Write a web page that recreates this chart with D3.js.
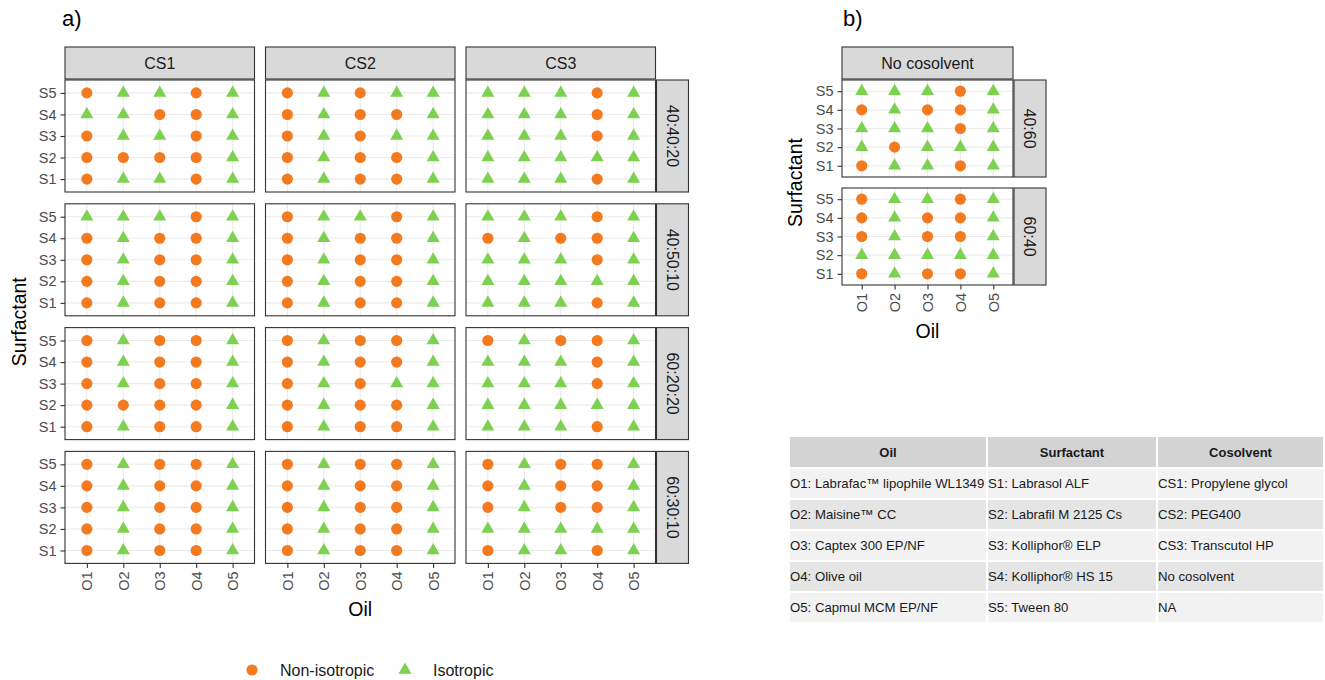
<!DOCTYPE html>
<html>
<head>
<meta charset="utf-8">
<script src="https://cdn.jsdelivr.net/npm/d3@7"></script>
<style>
  body { margin: 0; background: #fff; }
  svg { display: block; font-family: "Liberation Sans", Arial, sans-serif; }
</style>
</head>
<body>
<div id="chart"></div>
<script>
// categories
const oils = ["O1", "O2", "O3", "O4", "O5"];
const surfactants = ["S1", "S2", "S3", "S4", "S5"];
const cosolvents = ["CS1", "CS2", "CS3"];
const ratiosA = ["40:40:20", "40:50:10", "60:20:20", "60:30:10"];
const ratiosB = ["40:60", "60:40"];
const stateLabels = ["Non-isotropic", "Isotropic"];

// observations: one string per surfactant row, S5 at the top down to S1,
// one letter per oil O1..O5 (N = non-isotropic, I = isotropic)
const cs1_40_40_20 = ["NIINI", "IINNI", "NIINI", "NNNNI", "NIINI"];
const cs2_40_40_20 = ["NINII", "NINNI", "NINII", "NINNI", "NINNI"];
const cs3_40_40_20 = ["IIINI", "IIINI", "IIINI", "IIIII", "IIINI"];

const cs1_40_50_10 = ["IIINI", "NINNI", "NINNI", "NINNI", "NINNI"];
const cs2_40_50_10 = ["NIINI", "NINNI", "NINNI", "NINNI", "NINNI"];
const cs3_40_50_10 = ["IIINI", "NINNI", "IIINI", "IIIII", "IIINI"];

const cs1_60_20_20 = ["NINNI", "NINNI", "NINNI", "NNNNI", "NINNI"];
const cs2_60_20_20 = ["NINNI", "NINNI", "NINII", "NINNI", "NINNI"];
const cs3_60_20_20 = ["NINNI", "IIINI", "IIINI", "IIIII", "IIINI"];

const cs1_60_30_10 = ["NINNI", "NINNI", "NINNI", "NINNI", "NINNI"];
const cs2_60_30_10 = ["NINNI", "NINNI", "NINNI", "NINNI", "NINNI"];
const cs3_60_30_10 = ["NINNI", "NINNI", "NINNI", "IIIII", "NIINI"];

const none_40_60 = ["IIINI", "NINNI", "IIINI", "INIII", "NIINI"];
const none_60_40 = ["NIINI", "NINNI", "NINNI", "IIIII", "NINNI"];

// table text
const tableHeader = ["Oil", "Surfactant", "Cosolvent"];
const oilNames = ["O1: Labrafac\u2122 lipophile WL1349", "O2: Maisine\u2122 CC", "O3: Captex 300 EP/NF", "O4: Olive oil", "O5: Capmul MCM EP/NF"];
const surfactantNames = ["S1: Labrasol ALF", "S2: Labrafil M 2125 Cs", "S3: Kolliphor\u00ae ELP", "S4: Kolliphor\u00ae HS 15", "S5: Tween 80"];
const cosolventNames = ["CS1: Propylene glycol", "CS2: PEG400", "CS3: Transcutol HP", "No cosolvent", "NA"];

const gridA = [
  [cs1_40_40_20, cs2_40_40_20, cs3_40_40_20],
  [cs1_40_50_10, cs2_40_50_10, cs3_40_50_10],
  [cs1_60_20_20, cs2_60_20_20, cs3_60_20_20],
  [cs1_60_30_10, cs2_60_30_10, cs3_60_30_10]
];
const gridB = [[none_40_60], [none_60_40]];

const W = 1325, H = 680;
const colors = { N: "#f47a1f", I: "#7cd150" };
const circle = d3.symbol().type(d3.symbolCircle).size(98);
const triangle = d3.symbol().type(d3.symbolTriangle).size(74);

const svg = d3.select("#chart").append("svg")
    .attr("width", W)
    .attr("height", H);

const toPoints = rows => rows.flatMap((row, r) =>
    row.split("").map((s, c) => ({ oil: oils[c], surf: surfactants[4 - r], state: s })));

const drawPanel = (x0, y0, w, h, rows, showY, showX) => {
    const x = d3.scalePoint().domain(oils).range([x0, x0 + w]).padding(0.6);
    const y = d3.scalePoint().domain(surfactants).range([y0 + h, y0]).padding(0.6);
    const g = svg.append("g");

    g.append("rect")
        .attr("x", x0).attr("y", y0).attr("width", w).attr("height", h)
        .attr("fill", "#fff");

    // grid
    g.selectAll(".gx").data(oils).enter().append("line")
        .attr("x1", d => x(d)).attr("x2", d => x(d))
        .attr("y1", y0).attr("y2", y0 + h)
        .attr("stroke", "#ebebeb").attr("stroke-width", 1.1);
    g.selectAll(".gy").data(surfactants).enter().append("line")
        .attr("y1", d => y(d)).attr("y2", d => y(d))
        .attr("x1", x0).attr("x2", x0 + w)
        .attr("stroke", "#ebebeb").attr("stroke-width", 1.1);

    g.selectAll(".pt").data(toPoints(rows)).enter().append("path")
        .attr("d", d => d.state === "N" ? circle() : triangle())
        .attr("transform", d => `translate(${x(d.oil)},${y(d.surf)})`)
        .attr("fill", d => colors[d.state]);

    g.append("rect")
        .attr("x", x0).attr("y", y0).attr("width", w).attr("height", h)
        .attr("fill", "none").attr("stroke", "#333").attr("stroke-width", 1.1);

    if (showY) {
        const ax = g.append("g")
            .attr("transform", `translate(${x0},0)`)
            .call(d3.axisLeft(y).tickSize(4.5).tickPadding(4));
        ax.select(".domain").remove();
        ax.selectAll("line").attr("stroke", "#333").attr("stroke-width", 1.1);
        ax.selectAll("text")
            .style("font-size", "14.5px")
            .style("font-family", "Liberation Sans, Arial, sans-serif")
            .attr("fill", "#4d4d4d");
    }
    if (showX) {
        const ax = g.append("g")
            .attr("transform", `translate(0,${y0 + h})`)
            .call(d3.axisBottom(x).tickSize(4.5));
        ax.select(".domain").remove();
        ax.selectAll("line").attr("stroke", "#333").attr("stroke-width", 1.1);
        ax.selectAll("text")
            .attr("transform", "rotate(-90)")
            .attr("x", -8).attr("y", 0).attr("dy", "0.35em")
            .style("text-anchor", "end")
            .style("font-size", "14.5px")
            .style("font-family", "Liberation Sans, Arial, sans-serif")
            .attr("fill", "#4d4d4d");
    }
};

const stripTop = (x0, y0, w, h, label) => {
    svg.append("rect")
        .attr("x", x0).attr("y", y0).attr("width", w).attr("height", h)
        .attr("fill", "#d9d9d9").attr("stroke", "#333").attr("stroke-width", 1.1);
    svg.append("text")
        .attr("x", x0 + w / 2).attr("y", y0 + h / 2).attr("dy", "0.35em")
        .attr("text-anchor", "middle")
        .style("font-size", "16px").attr("fill", "#1a1a1a")
        .text(label);
};

const stripRight = (x0, y0, w, h, label) => {
    svg.append("rect")
        .attr("x", x0).attr("y", y0).attr("width", w).attr("height", h)
        .attr("fill", "#d9d9d9").attr("stroke", "#333").attr("stroke-width", 1.1);
    svg.append("text")
        .attr("transform", `translate(${x0 + w / 2},${y0 + h / 2}) rotate(90)`)
        .attr("dy", "0.35em")
        .attr("text-anchor", "middle")
        .style("font-size", "16px").attr("fill", "#1a1a1a")
        .text(label);
};

// ---- a) ----
const aX = i => 65 + i * 200.5;
const aY = j => 80 + j * 123.8;
const aW = 189.5, aH = 112, stripS = 32;

cosolvents.forEach((cs, i) => stripTop(aX(i), 80 - stripS - 1, aW, stripS, cs));
ratiosA.forEach((r, j) => {
    stripRight(aX(2) + aW + 1, aY(j), stripS, aH, r);
    cosolvents.forEach((cs, i) => drawPanel(aX(i), aY(j), aW, aH, gridA[j][i], i === 0, j === ratiosA.length - 1));
});

svg.append("text").attr("x", 62).attr("y", 26)
    .style("font-size", "22px").text("a)");
svg.append("text")
    .attr("transform", `translate(26,${(aY(0) + aY(3) + aH) / 2}) rotate(-90)`)
    .attr("text-anchor", "middle")
    .style("font-size", "19.5px").text("Surfactant");
svg.append("text")
    .attr("x", aX(1) + aW / 2).attr("y", 616)
    .attr("text-anchor", "middle")
    .style("font-size", "19.5px").text("Oil");

// ---- b) ----
const bX = 842, bW = 171, bH = 97;
const bY = j => 80 + j * 108;
stripTop(bX, 80 - stripS - 1, bW, stripS, "No cosolvent");
ratiosB.forEach((r, j) => {
    stripRight(bX + bW + 1, bY(j), stripS, bH, r);
    drawPanel(bX, bY(j), bW, bH, gridB[j][0], true, j === ratiosB.length - 1);
});
svg.append("text").attr("x", 843).attr("y", 26)
    .style("font-size", "22px").text("b)");
svg.append("text")
    .attr("transform", `translate(802,${(bY(0) + bY(1) + bH) / 2}) rotate(-90)`)
    .attr("text-anchor", "middle")
    .style("font-size", "19.5px").text("Surfactant");
svg.append("text")
    .attr("x", bX + bW / 2).attr("y", 338)
    .attr("text-anchor", "middle")
    .style("font-size", "19.5px").text("Oil");

// ---- legend ----
const legend = svg.append("g").attr("transform", "translate(0,670)");
[[252, "N"], [405, "I"]].forEach(([lx, s], k) => {
    legend.append("path")
        .attr("d", s === "N" ? circle() : triangle())
        .attr("transform", `translate(${lx},0)`)
        .attr("fill", colors[s]);
    legend.append("text")
        .attr("x", lx + 28).attr("y", 0).attr("dy", "0.35em")
        .style("font-size", "16px").attr("fill", "#1a1a1a")
        .text(stateLabels[k]);
});

// ---- table ----
const colEdges = [790, 988, 1158, 1325];
const tableTop = 437, headH = 30, rowH = 31;
const table = svg.append("g");
tableHeader.forEach((hd, c) => {
    table.append("rect")
        .attr("x", colEdges[c]).attr("y", tableTop)
        .attr("width", colEdges[c + 1] - colEdges[c] - 2).attr("height", headH)
        .attr("fill", "#d3d3d3");
    table.append("text")
        .attr("x", (colEdges[c] + colEdges[c + 1] - 2) / 2).attr("y", tableTop + headH / 2)
        .attr("dy", "0.35em").attr("text-anchor", "middle")
        .style("font-size", "13px").style("font-weight", "bold").attr("fill", "#1a1a1a")
        .text(hd);
});
[oilNames, surfactantNames, cosolventNames].forEach((col, c) => {
    col.forEach((txt, r) => {
        const ry = tableTop + headH + 2 + r * rowH;
        table.append("rect")
            .attr("x", colEdges[c]).attr("y", ry)
            .attr("width", colEdges[c + 1] - colEdges[c] - 2).attr("height", rowH - 2)
            .attr("fill", r % 2 === 0 ? "#f2f2f2" : "#e5e5e5");
        table.append("text")
            .attr("x", colEdges[c]).attr("y", ry + (rowH - 2) / 2)
            .attr("dy", "0.35em")
            .style("font-size", "13.2px").attr("fill", "#1a1a1a")
            .text(txt);
    });
});
</script>
</body>
</html>
